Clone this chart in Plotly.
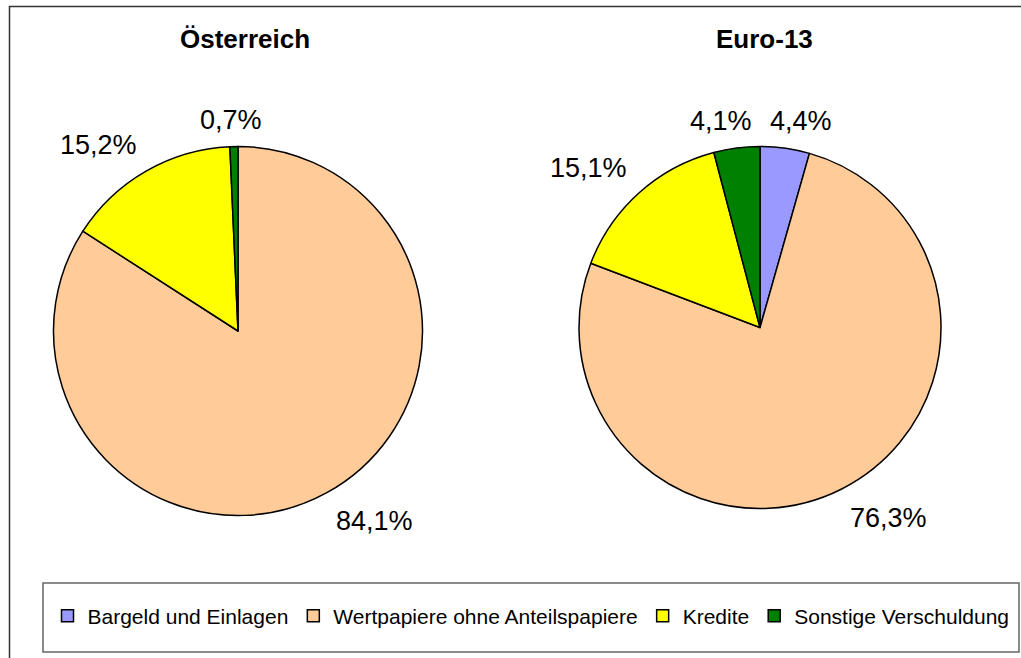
import math
import plotly.graph_objects as go

categories = ["Bargeld und Einlagen", "Wertpapiere ohne Anteilspapiere", "Kredite", "Sonstige Verschuldung"]
austria_values = [0.0, 84.1, 15.2, 0.7]
euro13_values = [4.4, 76.3, 15.1, 4.1]
chart_titles = ["Österreich", "Euro-13"]
colors = ["#9999FF", "#FFCC99", "#FFFF00", "#008000"]

W, H = 1021, 658
FONT = "Liberation Sans, Arial, sans-serif"
LABEL_SIZE = 27
GLYPH_W = {",": 0.278, "%": 0.889}


def fmt(v):
    return "" if v == 0 else f"{v:.1f}%".replace(".", ",")


def text_width(s, size):
    return sum(GLYPH_W.get(ch, 0.556) for ch in s) * size


def clamp(v):
    return max(-1.0, min(1.0, v))


def xdom(cx, r):
    return [(cx - r) / W, (cx + r) / W]


def ydom(cy, r):
    return [1 - (cy + r) / H, 1 - (cy - r) / H]


fig = go.Figure()
annotations = []
pies = [
    (austria_values, 238, 331, 184.5),
    (euro13_values, 760, 327.5, 181),
]
for vals, cx, cy, r in pies:
    fig.add_trace(go.Pie(
        labels=categories,
        values=vals,
        textinfo="none",
        sort=False,
        direction="clockwise",
        rotation=0,
        marker=dict(colors=colors, line=dict(color="black", width=1.5)),
        domain=dict(x=xdom(cx, r), y=ydom(cy, r)),
        hoverinfo="label+percent",
        showlegend=True,
    ))
    # outside-end data labels placed at each slice's mid-angle
    total = sum(vals)
    cum = 0.0
    for v in vals:
        mid = (cum + v / 2) / total
        cum += v
        label = fmt(v)
        if not label:
            continue
        th = 2 * math.pi * mid
        sx, sy = math.sin(th), -math.cos(th)
        pad = 20 - 4 * max(0.0, -sy) ** 4
        ax = cx + (r + pad) * sx
        ay = cy + (r + pad) * sy
        hw = text_width(label, LABEL_SIZE) / 2
        hh = 0.4 * LABEL_SIZE
        lx = ax + hw * clamp(sx / 0.3)
        ly = ay + hh * clamp(sy / 0.3)
        annotations.append(dict(
            text=label, x=lx / W, y=1 - ly / H, xref="paper", yref="paper",
            xanchor="center", yanchor="middle", showarrow=False,
            font=dict(family=FONT, size=LABEL_SIZE, color="black"),
        ))

for t, tx in zip(chart_titles, [245, 764]):
    annotations.append(dict(
        text=f"<b>{t}</b>", x=tx / W, y=1 - 39 / H, xref="paper", yref="paper",
        xanchor="center", yanchor="middle", showarrow=False,
        font=dict(family=FONT, size=26, color="black"),
    ))

shapes = [
    # outer chart border
    dict(type="rect", xref="paper", yref="paper",
         x0=9.5 / W, x1=1.02, y0=-0.02, y1=1 - 6.5 / H,
         line=dict(color="#333333", width=1.5), fillcolor="rgba(0,0,0,0)", layer="below"),
    # legend box
    dict(type="rect", xref="paper", yref="paper",
         x0=43 / W, x1=1019 / W, y0=1 - 652 / H, y1=1 - 583 / H,
         line=dict(color="#666666", width=1.5), fillcolor="rgba(0,0,0,0)", layer="below"),
]

fig.update_layout(
    width=W, height=H,
    margin=dict(l=0, r=0, t=0, b=0),
    paper_bgcolor="white", plot_bgcolor="white",
    font=dict(family=FONT, color="black"),
    annotations=annotations,
    shapes=shapes,
    legend=dict(
        orientation="h", x=531 / W, xanchor="center", y=1 - 616 / H, yanchor="middle",
        font=dict(family=FONT, size=21, color="black"),
        bgcolor="rgba(0,0,0,0)", borderwidth=0, itemwidth=30,
        traceorder="normal",
    ),
)

fig.write_html(
    "out.html",
    config={"displayModeBar": False},
    post_script="document.body.style.margin='0px';document.body.style.overflow='hidden';",
)
